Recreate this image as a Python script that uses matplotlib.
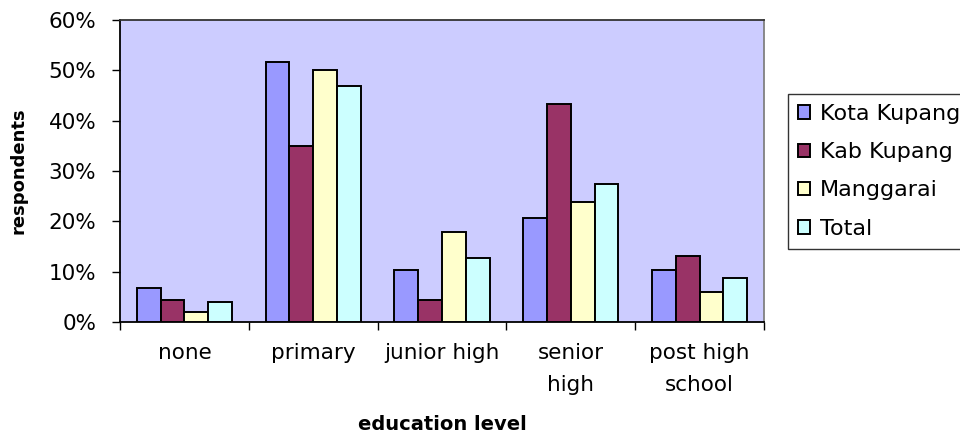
import numpy as np
import matplotlib
matplotlib.use("Agg")
import matplotlib.pyplot as plt
from matplotlib.ticker import FuncFormatter, FixedLocator

categories = ["none", "primary", "junior high", "senior\nhigh", "post high\nschool"]
series_names = ["Kota Kupang", "Kab Kupang", "Manggarai", "Total"]

kota_kupang = [0.067, 0.517, 0.103, 0.206, 0.103]
kab_kupang = [0.043, 0.350, 0.043, 0.433, 0.131]
manggarai = [0.020, 0.500, 0.179, 0.238, 0.059]
total = [0.039, 0.468, 0.127, 0.274, 0.087]

colors = ["#9999FF", "#993366", "#FFFFCC", "#CCFFFF"]

plt.rcParams["font.family"] = "DejaVu Sans"

fig = plt.figure(figsize=(9.6, 4.37), dpi=100)
ax = fig.add_axes([120 / 960, 1 - 322 / 437, 644 / 960, 302 / 437])
ax.set_facecolor("#CCCCFF")

x = np.arange(len(categories))
width = 0.185
for i, (vals, name) in enumerate(zip([kota_kupang, kab_kupang, manggarai, total], series_names)):
    ax.bar(x + (i - 1.5) * width, vals, width, color=colors[i], edgecolor="black",
           linewidth=1.4, label=name, zorder=3)

ax.set_xlim(-0.5, len(categories) - 0.5)
ax.set_ylim(0, 0.6)
ax.set_yticks(np.arange(0, 0.61, 0.1))
ax.yaxis.set_major_formatter(FuncFormatter(lambda v, p: f"{v * 100:.0f}%"))
ax.tick_params(axis="y", length=6, width=1, pad=11, labelsize=15.5, color="black")

# category names in the middle, tick marks on the boundaries
ax.set_xticks(x)
ax.set_xticklabels(categories, fontsize=15.5, linespacing=1.75, va="top")
ax.tick_params(axis="x", which="major", length=0, pad=15)
ax.xaxis.set_minor_locator(FixedLocator(np.arange(-0.5, len(categories), 1.0)))
ax.tick_params(axis="x", which="minor", length=6, width=1, color="black")

for side in ["left", "bottom"]:
    ax.spines[side].set_color("black")
    ax.spines[side].set_linewidth(1.3)
ax.spines["top"].set_color("#333333")
ax.spines["top"].set_linewidth(1.3)
ax.spines["right"].set_color("#808080")
ax.spines["right"].set_linewidth(1.3)

ax.set_ylabel("respondents", fontsize=13, fontweight="bold")
ax.yaxis.set_label_coords(-0.158, 0.5)
ax.yaxis.label.set_verticalalignment("center")
ax.set_xlabel("education level", fontsize=14, fontweight="bold")
ax.xaxis.set_label_coords(0.5, -0.338)
ax.xaxis.label.set_verticalalignment("center")

leg = fig.legend(loc="upper left", bbox_to_anchor=(788 / 960, 1 - 94 / 437),
                 fontsize=16, frameon=True, fancybox=False, shadow=False,
                 handlelength=0.55, handleheight=0.55, handletextpad=0.45,
                 labelspacing=0.82, borderpad=0.45, borderaxespad=0)
leg.get_frame().set_edgecolor("black")
leg.get_frame().set_linewidth(1.0)
leg.get_frame().set_facecolor("white")

fig.savefig("out.png", dpi=100, facecolor="white")
